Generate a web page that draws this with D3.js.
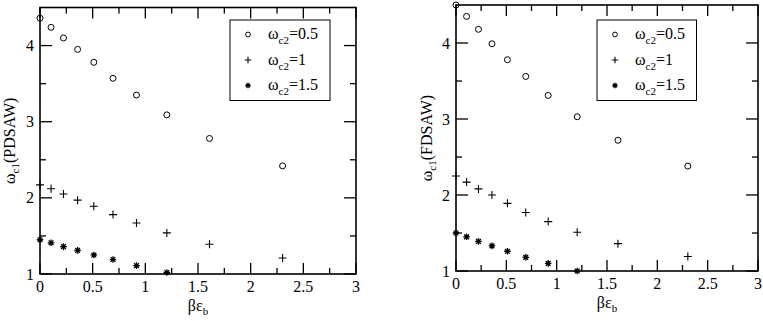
<!DOCTYPE html>
<html>
<head>
<meta charset="utf-8">
<script src="https://cdn.jsdelivr.net/npm/d3@7"></script>
<style>
  html, body { margin: 0; padding: 0; background: #fff; }
  svg { display: block; }
</style>
</head>
<body>
<svg id="chart" width="763" height="321"></svg>
<script>
// ---- data ----
const betaEps = [0, 0.105, 0.223, 0.357, 0.511, 0.693, 0.916, 1.204, 1.609, 2.303];
const pdsaw_05 = [4.36, 4.24, 4.10, 3.95, 3.78, 3.57, 3.35, 3.09, 2.78, 2.42];
const pdsaw_1  = [2.17, 2.12, 2.05, 1.97, 1.89, 1.78, 1.67, 1.54, 1.39, 1.21];
const pdsaw_15 = [1.45, 1.41, 1.36, 1.31, 1.25, 1.19, 1.11, 1.02];
const fdsaw_05 = [4.50, 4.35, 4.18, 3.99, 3.78, 3.56, 3.31, 3.03, 2.72, 2.38];
const fdsaw_1  = [2.25, 2.17, 2.08, 2.00, 1.89, 1.77, 1.65, 1.51, 1.36, 1.19];
const fdsaw_15 = [1.50, 1.45, 1.39, 1.33, 1.26, 1.18, 1.10, 1.00];
const xTicks = [0, 0.5, 1, 1.5, 2, 2.5, 3];
const xMinor = [0.25, 0.75, 1.25, 1.75, 2.25, 2.75];
const yTicks = [1, 2, 3, 4];
const yMinor = [1.5, 2.5, 3.5];
const legendLabels = ["0.5", "1", "1.5"];

const FONT = "'Liberation Serif', 'Times New Roman', Times, 'DejaVu Serif', serif";
const svg = d3.select("#chart").attr("font-family", FONT).style("font-family", FONT);

function drawSymbol(g, type, x, y, s) {
  if (type === "circle") {
    g.append("circle").attr("cx", x).attr("cy", y).attr("r", 3 * s)
      .attr("fill", "none").attr("stroke", "#000").attr("stroke-width", 1);
  } else if (type === "plus") {
    const h = 4 * s;
    g.append("path").attr("d", `M${x - h},${y}H${x + h}M${x},${y - h}V${y + h}`)
      .attr("stroke", "#000").attr("stroke-width", 1.1).attr("fill", "none");
  } else {
    const h = 3.3 * s, d = h * 0.72;
    g.append("path")
      .attr("d", `M${x - h},${y}H${x + h}M${x},${y - h}V${y + h}M${x - d},${y - d}L${x + d},${y + d}M${x - d},${y + d}L${x + d},${y - d}`)
      .attr("stroke", "#000").attr("stroke-width", 1.3).attr("fill", "none");
    g.append("circle").attr("cx", x).attr("cy", y).attr("r", 1.8 * s).attr("fill", "#000");
  }
}

function txt(g) {
  return g.append("text").attr("font-family", FONT).style("font-family", FONT).attr("fill", "#000");
}

function drawPanel(cfg) {
  const g = svg.append("g");
  const x = d3.scaleLinear().domain([0, 3]).range([cfg.left, cfg.right]);
  const y = d3.scaleLinear().domain([1, 4.5]).range([cfg.bottom, cfg.top]);

  const tk = g.append("g").attr("stroke", "#000").attr("stroke-width", 1.3);
  xTicks.forEach(v => {
    tk.append("line").attr("x1", x(v)).attr("x2", x(v)).attr("y1", cfg.bottom).attr("y2", cfg.bottom - 11);
    tk.append("line").attr("x1", x(v)).attr("x2", x(v)).attr("y1", cfg.top).attr("y2", cfg.top + 11);
  });
  xMinor.forEach(v => {
    tk.append("line").attr("x1", x(v)).attr("x2", x(v)).attr("y1", cfg.bottom).attr("y2", cfg.bottom - 6);
    tk.append("line").attr("x1", x(v)).attr("x2", x(v)).attr("y1", cfg.top).attr("y2", cfg.top + 6);
  });
  yTicks.forEach(v => {
    tk.append("line").attr("y1", y(v)).attr("y2", y(v)).attr("x1", cfg.left).attr("x2", cfg.left + 12);
    tk.append("line").attr("y1", y(v)).attr("y2", y(v)).attr("x1", cfg.right).attr("x2", cfg.right - 12);
  });
  yMinor.forEach(v => {
    tk.append("line").attr("y1", y(v)).attr("y2", y(v)).attr("x1", cfg.left).attr("x2", cfg.left + 6);
    tk.append("line").attr("y1", y(v)).attr("y2", y(v)).attr("x1", cfg.right).attr("x2", cfg.right - 6);
  });

  g.append("rect").attr("x", cfg.left).attr("y", cfg.top)
    .attr("width", cfg.right - cfg.left).attr("height", cfg.bottom - cfg.top)
    .attr("fill", "none").attr("stroke", "#000").attr("stroke-width", 1.6);

  xTicks.forEach(v => {
    txt(g).attr("x", x(v)).attr("y", cfg.bottom + 18)
      .attr("text-anchor", "middle").attr("font-size", 16).text(String(v));
  });
  yTicks.forEach(v => {
    txt(g).attr("x", cfg.left - 6).attr("y", y(v) + 5.5)
      .attr("text-anchor", "end").attr("font-size", 16).text(String(v));
  });

  const xt = txt(g).attr("x", (cfg.left + cfg.right) / 2).attr("y", cfg.bottom + 37)
    .attr("text-anchor", "middle").attr("font-size", 16);
  xt.append("tspan").text("βε");
  xt.append("tspan").attr("font-size", 11).attr("dy", 4).text("b");

  const yt = txt(g)
    .attr("transform", `translate(${cfg.ylabX},${(cfg.top + cfg.bottom) / 2}) rotate(-90)`)
    .attr("text-anchor", "middle").attr("font-size", 16);
  yt.append("tspan").text("ω");
  yt.append("tspan").attr("font-size", 11).attr("dy", 4).text("c1");
  yt.append("tspan").attr("dy", -4).text(cfg.ylab);

  const series = [
    { type: "circle", vals: cfg.s05 },
    { type: "plus", vals: cfg.s1 },
    { type: "star", vals: cfg.s15 }
  ];
  series.forEach(s => {
    s.vals.forEach((v, i) => drawSymbol(g, s.type, x(betaEps[i]), y(v), 1));
  });

  const L = cfg.legend;
  g.append("rect").attr("x", L.x).attr("y", L.y).attr("width", L.w).attr("height", L.h)
    .attr("fill", "#fff").attr("stroke", "#000").attr("stroke-width", 1);
  series.forEach((s, i) => {
    const cy = L.y + 14.5 + i * 25.5;
    drawSymbol(g, s.type, L.x + 18, cy, 0.8);
    const t = txt(g).attr("x", L.x + 38).attr("y", cy + 4.5).attr("font-size", 16);
    t.append("tspan").text("ω");
    t.append("tspan").attr("font-size", 11).attr("dy", 5).text("c2");
    t.append("tspan").attr("dy", -5).text("=" + legendLabels[i]);
  });
}

drawPanel({
  left: 40, right: 356, top: 7.5, bottom: 274,
  ylab: "(PDSAW)", ylabX: 15,
  s05: pdsaw_05, s1: pdsaw_1, s15: pdsaw_15,
  legend: { x: 230, y: 20, w: 100, h: 80.5 }
});
drawPanel({
  left: 456, right: 758, top: 5, bottom: 271,
  ylab: "(FDSAW)", ylabX: 432,
  s05: fdsaw_05, s1: fdsaw_1, s15: fdsaw_15,
  legend: { x: 597, y: 20, w: 99.5, h: 80.5 }
});
</script>
</body>
</html>
